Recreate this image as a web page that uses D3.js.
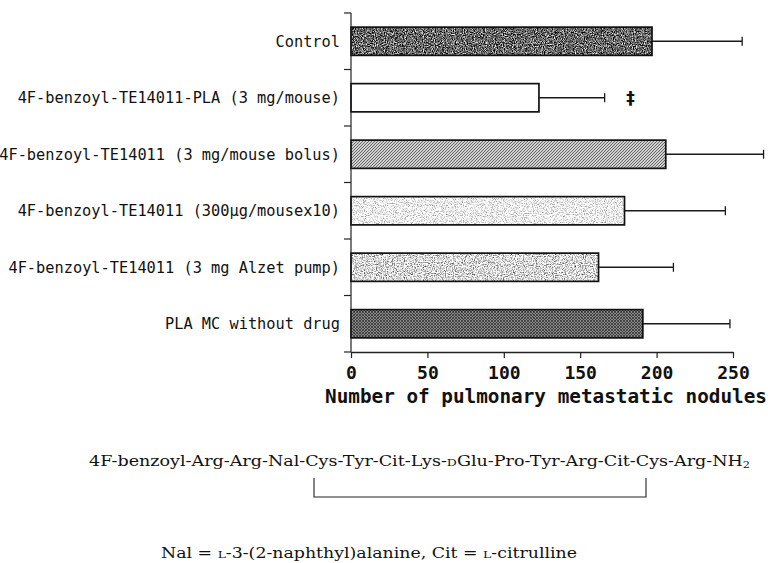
<!DOCTYPE html>
<html>
<head>
<meta charset="utf-8">
<script src="https://cdn.jsdelivr.net/npm/d3@7/dist/d3.min.js"></script>
<style>
  html, body { margin: 0; padding: 0; background: #fff; }
  svg { display: block; }
</style>
</head>
<body>
<svg id="chart" width="768" height="563"></svg>
<script>
// ---- data ----
const categories = [
  "Control",
  "4F-benzoyl-TE14011-PLA (3 mg/mouse)",
  "4F-benzoyl-TE14011 (3 mg/mouse bolus)",
  "4F-benzoyl-TE14011 (300\u03bcg/mousex10)",
  "4F-benzoyl-TE14011 (3 mg Alzet pump)",
  "PLA MC without drug"
];
const means = [197, 123, 206, 179, 162, 191];
const sds   = [59, 43, 64, 66, 49, 57];
const xTicks = [0, 50, 100, 150, 200, 250];
const marks = [{ index: 1, value: 183, text: "\u2021" }];
const xTitle = "Number of pulmonary metastatic nodules";

// ---- styles (kept apart from data) ----
const fillIds = ["fDark", "fWhite", "fHatch", "fSpeck", "fStipple", "fCross"];

const svg = d3.select("#chart");
const defs = svg.append("defs");

function noiseFilter(id, slope, intercept, freq, seed) {
  const f = defs.append("filter").attr("id", id)
    .attr("x", 0).attr("y", 0).attr("width", 1).attr("height", 1)
    .attr("filterUnits", "objectBoundingBox")
    .attr("color-interpolation-filters", "sRGB");
  f.append("feTurbulence").attr("type", "fractalNoise")
    .attr("baseFrequency", freq).attr("numOctaves", 2).attr("seed", seed).attr("result", "n");
  f.append("feColorMatrix").attr("in", "n").attr("type", "matrix")
    .attr("values", "1 0 0 0 0  1 0 0 0 0  1 0 0 0 0  0 0 0 0 1").attr("result", "g");
  const ct = f.append("feComponentTransfer").attr("in", "g").attr("result", "c");
  ["feFuncR", "feFuncG", "feFuncB"].forEach(fn =>
    ct.append(fn).attr("type", "linear").attr("slope", slope).attr("intercept", intercept));
  f.append("feComposite").attr("in", "c").attr("in2", "SourceGraphic").attr("operator", "in");
}
noiseFilter("fDark", 2.0, -0.6, 0.9, 4);
noiseFilter("fSpeck", 1.3, 0.3, 0.9, 7);
noiseFilter("fStipple", 1.8, -0.04, 0.9, 11);

// diagonal hatch
const ph = defs.append("pattern").attr("id", "pHatch").attr("patternUnits", "userSpaceOnUse")
  .attr("width", 3).attr("height", 3);
ph.append("rect").attr("width", 3).attr("height", 3).attr("fill", "#d0d0d0");
ph.append("path").attr("d", "M-1,1 L1,-1 M0,3 L3,0 M2,4 L4,2")
  .attr("stroke", "#5a5a5a").attr("stroke-width", 0.9);

// cross hatch
const pc = defs.append("pattern").attr("id", "pCross").attr("patternUnits", "userSpaceOnUse")
  .attr("width", 3).attr("height", 3);
pc.append("rect").attr("width", 3).attr("height", 3).attr("fill", "#8a8a8a");
pc.append("path").attr("d", "M-1,1 L1,-1 M0,3 L3,0 M2,4 L4,2 M-1,2 L1,4 M0,0 L3,3 M2,-1 L4,1")
  .attr("stroke", "#333").attr("stroke-width", 0.8);

// ---- scales ----
const x = d3.scaleLinear().domain([0, 250]).range([351, 733]);
const y = d3.scaleBand().domain(categories).range([13, 352])
  .paddingInner(0.5).paddingOuter(0.25);

const monoFont = "'DejaVu Sans Mono', 'Liberation Mono', monospace";
const serifFont = "'DejaVu Serif', 'Liberation Serif', serif";

// ---- bars ----
const bars = svg.append("g");
categories.forEach((c, i) => {
  const fid = fillIds[i];
  const bx = x(0), bw = x(means[i]) - x(0), by = y(c), bh = y.bandwidth();
  let base;
  if (fid === "fWhite") base = "#fff";
  else if (fid === "fHatch") base = "url(#pHatch)";
  else if (fid === "fCross") base = "url(#pCross)";
  else base = "#888";
  const r = bars.append("rect").attr("x", bx).attr("y", by).attr("width", bw).attr("height", bh)
    .attr("fill", base);
  if (fid === "fDark" || fid === "fSpeck" || fid === "fStipple") r.attr("filter", `url(#${fid})`);
  bars.append("rect").attr("x", bx).attr("y", by).attr("width", bw).attr("height", bh)
    .attr("fill", "none").attr("stroke", "#111").attr("stroke-width", 1.7);
});

// ---- error bars ----
const eb = svg.append("g").attr("stroke", "#1a1a1a").attr("stroke-width", 1.3);
categories.forEach((c, i) => {
  const cy = y(c) + y.bandwidth() / 2;
  const x1 = x(means[i]), x2 = x(means[i] + sds[i]);
  eb.append("line").attr("x1", x1).attr("x2", x2).attr("y1", cy).attr("y2", cy);
  eb.append("line").attr("x1", x2).attr("x2", x2).attr("y1", cy - 4.5).attr("y2", cy + 4.5);
});

// significance mark
marks.forEach(m => {
  const c = categories[m.index];
  svg.append("text").attr("x", x(m.value)).attr("y", y(c) + y.bandwidth() / 2)
    .attr("dy", "0.36em").attr("text-anchor", "middle")
    .attr("font-family", "'DejaVu Sans', sans-serif").attr("font-weight", "bold")
    .attr("font-size", 17).attr("fill", "#111").text(m.text);
});

// ---- y axis ----
const yAxis = svg.append("g").attr("transform", `translate(${x(0)},0)`)
  .call(d3.axisLeft(y).tickSize(0).tickPadding(11));
yAxis.select(".domain").remove();
yAxis.selectAll("text").attr("font-family", monoFont).attr("font-size", 15.3)
  .attr("fill", "#111").attr("dy", "0.36em");
svg.append("line").attr("x1", x(0)).attr("x2", x(0)).attr("y1", y.range()[0]).attr("y2", y.range()[1])
  .attr("stroke", "#222").attr("stroke-width", 1.2);
const step = y.step();
d3.range(categories.length + 1).forEach(k => {
  const yy = y.range()[0] + k * step;
  svg.append("line").attr("x1", x(0) - 7).attr("x2", x(0)).attr("y1", yy).attr("y2", yy)
    .attr("stroke", "#222").attr("stroke-width", 1.2);
});

// ---- x axis ----
const xAxis = svg.append("g").attr("transform", `translate(0,${y.range()[1]})`)
  .call(d3.axisBottom(x).tickValues(xTicks).tickSizeInner(6).tickSizeOuter(0).tickFormat(d3.format("d")));
xAxis.select(".domain").attr("stroke", "#222").attr("stroke-width", 1.4);
xAxis.selectAll(".tick line").attr("stroke", "#222").attr("stroke-width", 1.2);
xAxis.selectAll("text").attr("font-family", monoFont).attr("font-weight", "bold")
  .attr("font-size", 18).attr("fill", "#111").attr("y", 27).attr("dy", 0);

svg.append("text").attr("x", 325).attr("y", 403)
  .attr("font-family", monoFont).attr("font-weight", "bold").attr("font-size", 19)
  .attr("textLength", 442).attr("lengthAdjust", "spacingAndGlyphs")
  .attr("fill", "#111").text(xTitle);

// ---- peptide sequence ----
const seq = svg.append("text").attr("x", 89).attr("y", 466)
  .attr("font-family", serifFont).attr("font-size", 14).attr("fill", "#111")
  .attr("textLength", 661).attr("lengthAdjust", "spacingAndGlyphs");
seq.append("tspan").text("4F-benzoyl-Arg-Arg-Nal-Cys-Tyr-Cit-Lys-");
seq.append("tspan").attr("font-size", 10).text("D");
seq.append("tspan").text("Glu-Pro-Tyr-Arg-Cit-Cys-Arg-NH");
seq.append("tspan").attr("font-size", 9).attr("dy", 2).text("2");

svg.append("path").attr("d", "M314,478 V497 H646 V478")
  .attr("fill", "none").attr("stroke", "#222").attr("stroke-width", 1.1);

const foot = svg.append("text").attr("x", 161).attr("y", 558)
  .attr("font-family", serifFont).attr("font-size", 14).attr("fill", "#111")
  .attr("textLength", 416).attr("lengthAdjust", "spacingAndGlyphs");
foot.append("tspan").text("Nal = ");
foot.append("tspan").attr("font-size", 10).text("L");
foot.append("tspan").text("-3-(2-naphthyl)alanine,  Cit = ");
foot.append("tspan").attr("font-size", 10).text("L");
foot.append("tspan").text("-citrulline");
</script>
</body>
</html>
